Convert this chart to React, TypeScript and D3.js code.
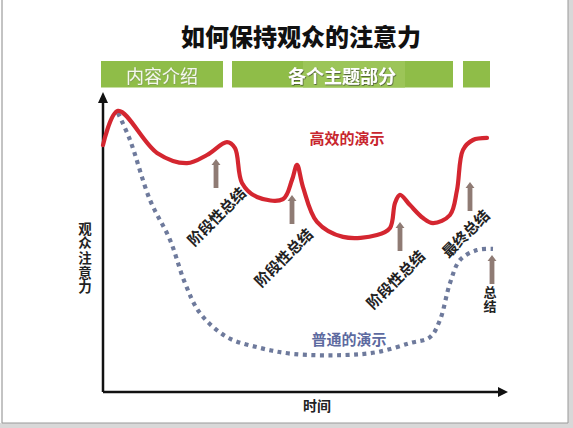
import React from "react";
import * as d3 from "d3";

const W = 573;
const H = 428;

const titleText = "如何保持观众的注意力";
const yAxisLabel = "观众注意力";
const xAxisLabel = "时间";

// phases along time axis (time units 0..100)
const phaseNames = ["内容介绍", "各个主题部分", ""];
const phaseStart = [-0.5, 32.25, 90];
const phaseEnd = [30, 87.5, 96.75];

// effective presentation (red)
const effTime = [0, 3.75, 13.5, 21, 26, 31, 33, 34.75, 38.5, 45, 47.25, 48.5, 50, 53.5, 60, 68.5, 71.75, 73, 74.25, 76.75, 80, 82.5, 86.75, 88.5, 90, 92.5, 96];
const effAttention = [82.3, 93.7, 79.7, 76.3, 79, 83.3, 81.3, 69.7, 65, 64.3, 70.7, 75.7, 68.3, 56.7, 51.7, 52.3, 54.7, 63, 65.7, 62.3, 58, 56.3, 59, 67.3, 80.7, 84, 84.7];

// ordinary presentation (dotted)
const ordTime = [3.75, 6.75, 11.75, 16.75, 20.5, 24.25, 31, 39.25, 47.5, 60, 68.5, 76.75, 81.75, 84.25, 86.75, 89.25, 93.5, 97.5];
const ordAttention = [93, 84, 64, 50.7, 36.3, 26.3, 18.3, 14.7, 12.7, 12.3, 13.3, 16.3, 18.3, 24, 36.3, 44, 47.3, 47.7];

// summary arrows (time, attention at tip)
const arrowTime = [28.25, 47.25, 74.25, 91.75, 97.25];
const arrowTip = [77.7, 65.7, 56.7, 70, 45.7];

// summary labels
const summaryText = ["阶段性总结", "阶段性总结", "阶段性总结", "最终总结"];
const summaryTime = [28.25, 45, 73, 90.5];
const summaryAttention = [58.7, 45, 37.7, 53];
const finalText = "总结";
const finalTime = 96.75;
const finalAttention = 30.7;

const effLabel = "高效的演示";
const effLabelPos = [61, 84.7];
const ordLabel = "普通的演示";
const ordLabelPos = [61.5, 18];

const FONT = "'Noto Sans CJK SC', 'Noto Sans', sans-serif";

export default function App() {
  const x = d3.scaleLinear().domain([0, 100]).range([103, 503]);
  const y = d3.scaleLinear().domain([0, 100]).range([392, 92]);

  const line = d3
    .line<[number, number]>()
    .x((d) => x(d[0]))
    .y((d) => y(d[1]))
    .curve(d3.curveCatmullRom.alpha(0.5));

  const effPts = effTime.map((t, i) => [t, effAttention[i]] as [number, number]);
  const ordPts = ordTime.map((t, i) => [t, ordAttention[i]] as [number, number]);

  const arrowColor = "#8f7b74";
  const arrowLen = 29;

  return (
    <svg
      width={W}
      height={H}
      style={{ position: "absolute", left: 0, top: 0, background: "#fff" }}
      fontFamily={FONT}
    >
      <defs>
        <filter id="sh" x="-10%" y="-10%" width="120%" height="120%">
          <feDropShadow dx="0.6" dy="0.8" stdDeviation="0.6" floodColor="#333" floodOpacity="0.8" />
        </filter>
        <filter id="sh2" x="-10%" y="-10%" width="120%" height="120%">
          <feDropShadow dx="0.4" dy="0.5" stdDeviation="0.5" floodColor="#666" floodOpacity="0.6" />
        </filter>
      </defs>
      <rect x={0} y={0} width={W} height={H} fill="#fff" />
      {/* frame */}
      <rect x={568} y={0} width={5} height={H} fill="#d8d8d8" />
      <rect x={0} y={423} width={W} height={5} fill="#d8d8d8" />
      <line x1={2} y1={0} x2={2} y2={423} stroke="#888" strokeWidth={1} />
      <line x1={568} y1={0} x2={568} y2={423} stroke="#999" strokeWidth={1} />
      <line x1={2} y1={423} x2={568} y2={423} stroke="#999" strokeWidth={1} />

      {/* title */}
      <text x={301} y={35.5} textAnchor="middle" dominantBaseline="central" fontSize={24} fontWeight={900} fill="#111">
        {titleText}
      </text>

      {/* phase bars */}
      {phaseNames.map((name, i) => (
        <rect key={"pb" + i} x={x(phaseStart[i])} y={61} width={x(phaseEnd[i]) - x(phaseStart[i])} height={26.5} fill="#8fbd48" />
      ))}
      <rect x={x(50)} y={61} width={x(75.5) - x(50)} height={26.5} fill="#9cc558" />
      <text x={x(14.75)} y={75} textAnchor="middle" dominantBaseline="central" fontSize={18} fill="#f4f8ec" filter="url(#sh2)">
        {phaseNames[0]}
      </text>
      <text x={x(59.75)} y={75} textAnchor="middle" dominantBaseline="central" fontSize={18} fontWeight={700} fill="#fff" filter="url(#sh)">
        {phaseNames[1]}
      </text>

      {/* axes */}
      <line x1={x(0)} y1={y(0)} x2={x(0)} y2={97} stroke="#111" strokeWidth={2.5} />
      <path d={`M${x(0) - 5},${103} L${x(0)},${92} L${x(0) + 5},${103} Z`} fill="#111" />
      <line x1={x(0)} y1={y(0)} x2={500} y2={y(0)} stroke="#111" strokeWidth={2.5} />
      <path d={`M${498},${y(0) - 5} L${508},${y(0)} L${498},${y(0) + 5} Z`} fill="#111" />

      {/* y label (vertical writing) */}
      <text
        x={85}
        y={258.5}
        textAnchor="middle"
        fontSize={13.5}
        fontWeight={700}
        fill="#222"
        letterSpacing={1.2}
        style={{ writingMode: "vertical-rl" }}
      >
        {yAxisLabel}
      </text>
      <text x={317} y={405} textAnchor="middle" dominantBaseline="central" fontSize={14} fontWeight={700} fill="#222">
        {xAxisLabel}
      </text>

      {/* ordinary (dotted) */}
      <path d={line(ordPts) || ""} fill="none" stroke="#6e7a9c" strokeWidth={4.2} strokeDasharray="4 4.5" />
      {/* effective (red) */}
      <path d={line(effPts) || ""} fill="none" stroke="#d42630" strokeWidth={4.2} strokeLinecap="round" strokeLinejoin="round" />

      {/* arrows */}
      {arrowTime.map((t, i) => {
        const cx = x(t);
        const ty = y(arrowTip[i]);
        return (
          <path
            key={"ar" + i}
            d={`M${cx},${ty} L${cx + 4.5},${ty + 6} L${cx + 2.4},${ty + 6} L${cx + 2.4},${ty + arrowLen} L${cx - 2.4},${ty + arrowLen} L${cx - 2.4},${ty + 6} L${cx - 4.5},${ty + 6} Z`}
            fill={arrowColor}
          />
        );
      })}

      {/* summary labels */}
      {summaryText.map((s, i) => (
        <text
          key={"sl" + i}
          transform={`translate(${x(summaryTime[i])},${y(summaryAttention[i])}) rotate(-45)`}
          textAnchor="middle"
          dominantBaseline="central"
          fontSize={15}
          fontWeight={700}
          fill="#222"
        >
          {s}
        </text>
      ))}
      <text
        x={x(finalTime)}
        y={y(finalAttention)}
        textAnchor="middle"
        fontSize={13}
        fontWeight={700}
        fill="#222"
        letterSpacing={1.5}
        style={{ writingMode: "vertical-rl" }}
      >
        {finalText}
      </text>

      {/* curve labels */}
      <text x={x(effLabelPos[0])} y={y(effLabelPos[1])} textAnchor="middle" dominantBaseline="central" fontSize={15} fontWeight={700} fill="#c8262e">
        {effLabel}
      </text>
      <text x={x(ordLabelPos[0])} y={y(ordLabelPos[1])} textAnchor="middle" dominantBaseline="central" fontSize={15} fontWeight={700} fill="#5d6aa0">
        {ordLabel}
      </text>
    </svg>
  );
}
